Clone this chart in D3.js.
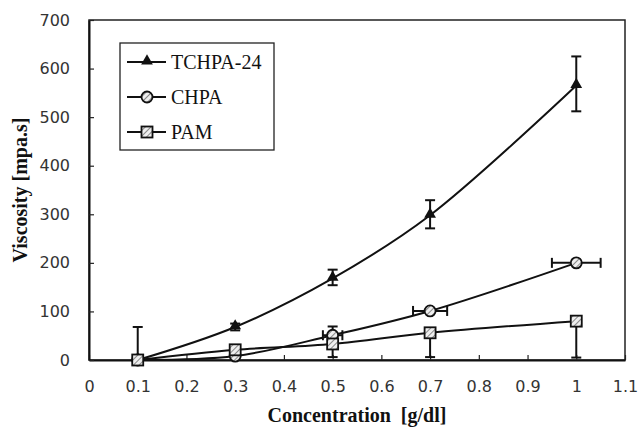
<!DOCTYPE html>
<html>
<head>
<meta charset="UTF-8">
<title>Viscosity vs concentration</title>
<script src="https://d3js.org/d3.v7.min.js"></script>
<style>
  body { margin: 0; background: white; }
  svg { display: block; }
  .tick text { font-family: "DejaVu Sans", sans-serif; font-size: 16px; fill: #333; }
  .tick line { stroke: #222; stroke-width: 1.2; }
  .domain { stroke: #111; stroke-width: 2; }
  .serif { font-family: "Liberation Serif", "Times New Roman", serif; fill: #111; }
</style>
</head>
<body>
<svg id="chart" width="639" height="429"></svg>
<script>
// data
const conc = [0.1, 0.3, 0.5, 0.7, 1.0];
const tchpa = [0, 68, 168, 298, 565];
const chpa = [0, 8, 51, 101, 200];
const pam = [0, 21, 33, 56, 80];

const tchpaErrUp = [0, 7, 18, 31, 60];
const tchpaErrDown = [0, 7, 14, 27, 53];
const chpaErrUp = [0, 0, 18, 0, 0];
const chpaErrX = [0, 0, 0.02, 0.035, 0.05];
const pamErrUp = [68, 0, 0, 0, 0];
const pamErrDown = [0, 0, 27, 50, 75];

const xTicks = [0, 0.1, 0.2, 0.3, 0.4, 0.5, 0.6, 0.7, 0.8, 0.9, 1, 1.1];
const yTicks = [0, 100, 200, 300, 400, 500, 600, 700];
const seriesNames = ["TCHPA-24", "CHPA", "PAM"];

const w = 639, h = 429;
const m = { left: 89, right: 14, top: 20, bottom: 69 };

const svg = d3.select("#chart");

// hatched fill like the original markers
const defs = svg.append("defs");
const pat = defs.append("pattern")
  .attr("id", "hatch")
  .attr("patternUnits", "userSpaceOnUse")
  .attr("width", 4).attr("height", 4)
  .attr("patternTransform", "rotate(45)");
pat.append("rect").attr("width", 4).attr("height", 4).attr("fill", "#eee");
pat.append("line").attr("x1", 0).attr("y1", 0).attr("x2", 0).attr("y2", 4)
  .attr("stroke", "#666").attr("stroke-width", 1.5);

const x = d3.scaleLinear().domain([0, 1.1]).range([m.left, w - m.right]);
const y = d3.scaleLinear().domain([0, 700]).range([h - m.bottom, m.top]);

// frame
svg.append("rect")
  .attr("x", x(0)).attr("y", y(700))
  .attr("width", x(1.1) - x(0)).attr("height", y(0) - y(700))
  .attr("fill", "none").attr("stroke", "#222").attr("stroke-width", 1.5);

const xAxis = d3.axisBottom(x).tickValues(xTicks)
  .tickSizeInner(-5).tickSizeOuter(0).tickPadding(21)
  .tickFormat(d => d === 0 ? "0" : d3.format("~g")(d));
svg.append("g")
  .attr("transform", "translate(0," + y(0) + ")")
  .call(xAxis);

const yAxis = d3.axisLeft(y).tickValues(yTicks)
  .tickSizeInner(-5).tickSizeOuter(0).tickPadding(19);
svg.append("g")
  .attr("transform", "translate(" + x(0) + ",0)")
  .call(yAxis);

// titles
svg.append("text")
  .attr("class", "serif")
  .attr("x", (x(0) + x(1.1)) / 2).attr("y", 422)
  .attr("text-anchor", "middle")
  .style("font-weight", "bold").style("font-size", "20px")
  .attr("xml:space", "preserve")
  .text("Concentration  [g/dl]");

svg.append("text")
  .attr("class", "serif")
  .attr("transform", "translate(27," + ((y(0) + y(700)) / 2) + ") rotate(-90)")
  .attr("text-anchor", "middle")
  .style("font-weight", "bold").style("font-size", "20px")
  .text("Viscosity [mpa.s]");

const line = d3.line()
  .x(d => x(d[0])).y(d => y(d[1]))
  .curve(d3.curveCatmullRom.alpha(0.5));

function drawLine(vals) {
  svg.append("path")
    .datum(conc.map((c, i) => [c, vals[i]]))
    .attr("d", line)
    .attr("fill", "none").attr("stroke", "#111").attr("stroke-width", 2);
}

function vBar(xv, top, bottom) {
  const g = svg.append("g").attr("stroke", "#111").attr("stroke-width", 2);
  g.append("line").attr("x1", x(xv)).attr("x2", x(xv)).attr("y1", y(top)).attr("y2", y(bottom));
  g.append("line").attr("x1", x(xv) - 5).attr("x2", x(xv) + 5).attr("y1", y(top)).attr("y2", y(top));
  g.append("line").attr("x1", x(xv) - 5).attr("x2", x(xv) + 5).attr("y1", y(bottom)).attr("y2", y(bottom));
}

function hBar(yv, left, right) {
  const g = svg.append("g").attr("stroke", "#111").attr("stroke-width", 2);
  g.append("line").attr("x1", x(left)).attr("x2", x(right)).attr("y1", y(yv)).attr("y2", y(yv));
  g.append("line").attr("x1", x(left)).attr("x2", x(left)).attr("y1", y(yv) - 5).attr("y2", y(yv) + 5);
  g.append("line").attr("x1", x(right)).attr("x2", x(right)).attr("y1", y(yv) - 5).attr("y2", y(yv) + 5);
}

function marker(g, kind, cx, cy) {
  if (kind === 0) {
    g.append("path")
      .attr("d", d3.symbol(d3.symbolTriangle, 60)())
      .attr("transform", "translate(" + cx + "," + (cy - 1) + ")")
      .attr("fill", "#111");
  } else if (kind === 1) {
    g.append("circle").attr("cx", cx).attr("cy", cy).attr("r", 5.5)
      .attr("fill", "url(#hatch)").attr("stroke", "#111").attr("stroke-width", 1.8);
  } else {
    g.append("rect").attr("x", cx - 5.5).attr("y", cy - 5.5)
      .attr("width", 11).attr("height", 11)
      .attr("fill", "url(#hatch)").attr("stroke", "#111").attr("stroke-width", 1.8);
  }
}

drawLine(pam);
drawLine(chpa);
drawLine(tchpa);

// error bars
conc.forEach((c, i) => {
  if (tchpaErrUp[i] || tchpaErrDown[i]) vBar(c, tchpa[i] + tchpaErrUp[i], tchpa[i] - tchpaErrDown[i]);
  if (chpaErrUp[i]) vBar(c, chpa[i] + chpaErrUp[i], chpa[i]);
  if (chpaErrX[i]) hBar(chpa[i], c - chpaErrX[i], c + chpaErrX[i]);
  if (pamErrUp[i]) vBar(c, pam[i] + pamErrUp[i], pam[i]);
  if (pamErrDown[i]) vBar(c, pam[i], pam[i] - pamErrDown[i]);
});

const mk = svg.append("g");
[tchpa, chpa, pam].forEach((vals, k) => {
  conc.forEach((c, i) => marker(mk, k, x(c), y(vals[i])));
});

// legend
const lg = svg.append("g");
lg.append("rect").attr("x", 120).attr("y", 43).attr("width", 154).attr("height", 107)
  .attr("fill", "white").attr("stroke", "#222").attr("stroke-width", 1.3);
seriesNames.forEach((name, k) => {
  const ly = 62 + k * 35;
  lg.append("line").attr("x1", 127).attr("x2", 166).attr("y1", ly).attr("y2", ly)
    .attr("stroke", "#111").attr("stroke-width", 2);
  marker(lg, k, 147, ly);
  lg.append("text").attr("class", "serif")
    .attr("x", 171).attr("y", ly + 7)
    .style("font-size", "20px")
    .text(name);
});
</script>
</body>
</html>
